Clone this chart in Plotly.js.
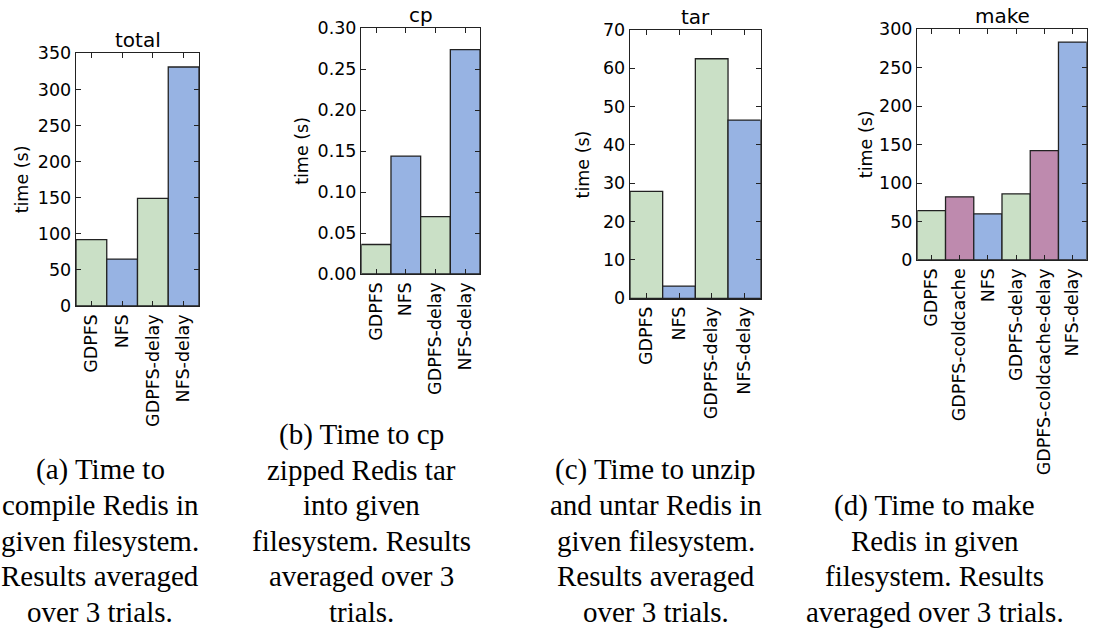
<!DOCTYPE html>
<html><head><meta charset="utf-8">
<script src="https://cdn.plot.ly/plotly-3.0.1.min.js"></script>
<style>html,body{margin:0;padding:0;background:#fff}#chart{width:1114px;height:631px}</style>
</head><body><div id="chart"></div>
<script>
// ---- data ----
const catsABC = ["GDPFS", "NFS", "GDPFS-delay", "NFS-delay"];
const totalVals = [92, 65, 149, 331];
const cpVals = [0.036, 0.144, 0.070, 0.274];
const tarVals = [27.9, 3.2, 62.5, 46.5];
const catsD = ["GDPFS", "GDPFS-coldcache", "NFS", "GDPFS-delay", "GDPFS-coldcache-delay", "NFS-delay"];
const makeVals = [64, 82, 60, 86, 142, 283];
const panelTitles = ["total", "cp", "tar", "make"];
const yTitle = "time (s)";
const capA = ["(a) Time to", "compile Redis in", "given filesystem.", "Results averaged", "over 3 trials."];
const capB = ["(b) Time to cp", "zipped Redis tar", "into given", "filesystem. Results", "averaged over 3", "trials."];
const capC = ["(c) Time to unzip", "and untar Redis in", "given filesystem.", "Results averaged", "over 3 trials."];
const capD = ["(d) Time to make", "Redis in given", "filesystem. Results", "averaged over 3 trials."];

// ---- styles ----
const W = 1114, H = 631;
const GREEN = "#cae0c6", BLUE = "#97b3e3", PURPLE = "#be8aae";
const colsABC = [GREEN, BLUE, GREEN, BLUE];
const colsD = [GREEN, PURPLE, BLUE, GREEN, PURPLE, BLUE];
const SANS = "DejaVu Sans", SERIF = "Liberation Serif";
// panel boxes in pixels [x0, x1, yTop, yBottom]
const boxes = [[76, 199, 53.3, 306], [361.3, 480, 28.3, 274], [630, 760.7, 30, 298.3], [917.3, 1086.7, 29, 260]];
const yRanges = [[0, 350], [0, 0.30], [0, 70], [0, 300]];
const yDticks = [50, 0.05, 10, 50];
const yFormats = ["d", ".2f", "d", "d"];
const yTitleX = [21.7, 301.7, 583.3, 866.7];
const capCenters = [100, 361, 655.5, 934.5];
const caps = [capA, capB, capC, capD];

const px = x => x / W, py = y => 1 - y / H;

const series = [[catsABC, totalVals, colsABC], [catsABC, cpVals, colsABC], [catsABC, tarVals, colsABC], [catsD, makeVals, colsD]];
const data = series.map((s, i) => ({
  type: "bar", x: s[0], y: s[1],
  xaxis: i === 0 ? "x" : "x" + (i + 1), yaxis: i === 0 ? "y" : "y" + (i + 1),
  marker: {color: s[2], line: {color: "#222", width: 1.3}},
  width: 1, showlegend: false, hoverinfo: "x+y"
}));

const layout = {
  width: W, height: H, margin: {l: 0, r: 0, t: 0, b: 0},
  paper_bgcolor: "#fff", plot_bgcolor: "#fff", bargap: 0, showlegend: false,
  font: {family: SANS, size: 17.5, color: "#000"},
  annotations: []
};
boxes.forEach((b, i) => {
  const sx = i === 0 ? "" : String(i + 1);
  const n = series[i][0].length;
  layout["xaxis" + sx] = {
    domain: [px(b[0]), px(b[1])], anchor: "y" + sx, type: "category",
    range: [-0.5, n - 0.5], showgrid: false, zeroline: false,
    showline: true, linecolor: "#222", linewidth: 1.3, mirror: "ticks",
    ticks: "inside", ticklen: 5, tickcolor: "#222", tickwidth: 1,
    tickangle: -90, tickfont: {family: SANS, size: 17.5, color: "#000"}, automargin: false
  };
  layout["yaxis" + sx] = {
    domain: [py(b[3]), py(b[2])], anchor: "x" + sx,
    range: yRanges[i], dtick: yDticks[i], tick0: 0, tickformat: yFormats[i],
    showgrid: false, zeroline: false,
    showline: true, linecolor: "#222", linewidth: 1.3, mirror: "ticks",
    ticks: "inside", ticklen: 5, tickcolor: "#222", tickwidth: 1,
    tickfont: {family: SANS, size: 17.5, color: "#000"}, automargin: false
  };
  // panel title
  layout.annotations.push({
    xref: "paper", yref: "paper", x: px((b[0] + b[1]) / 2), y: py(b[2]),
    xanchor: "center", yanchor: "bottom", yshift: -1, showarrow: false,
    text: panelTitles[i], font: {family: SANS, size: 20, color: "#000"}
  });
  // y axis title
  layout.annotations.push({
    xref: "paper", yref: "paper", x: px(yTitleX[i]), y: py((b[2] + b[3]) / 2),
    xanchor: "center", yanchor: "middle", textangle: -90, showarrow: false,
    text: yTitle, font: {family: SANS, size: 17.5, color: "#000"}
  });
  // caption lines (bottom aligned)
  const lines = caps[i];
  lines.forEach((t, k) => {
    const yc = 611.7 - (lines.length - 1 - k) * 35.5;
    layout.annotations.push({
      xref: "paper", yref: "paper", x: px(capCenters[i]), y: py(yc),
      xanchor: "center", yanchor: "middle", showarrow: false,
      text: t, font: {family: SERIF, size: 29, color: "#000"}
    });
  });
});

Plotly.newPlot("chart", data, layout, {displayModeBar: false, staticPlot: true});
</script>
</body></html>
